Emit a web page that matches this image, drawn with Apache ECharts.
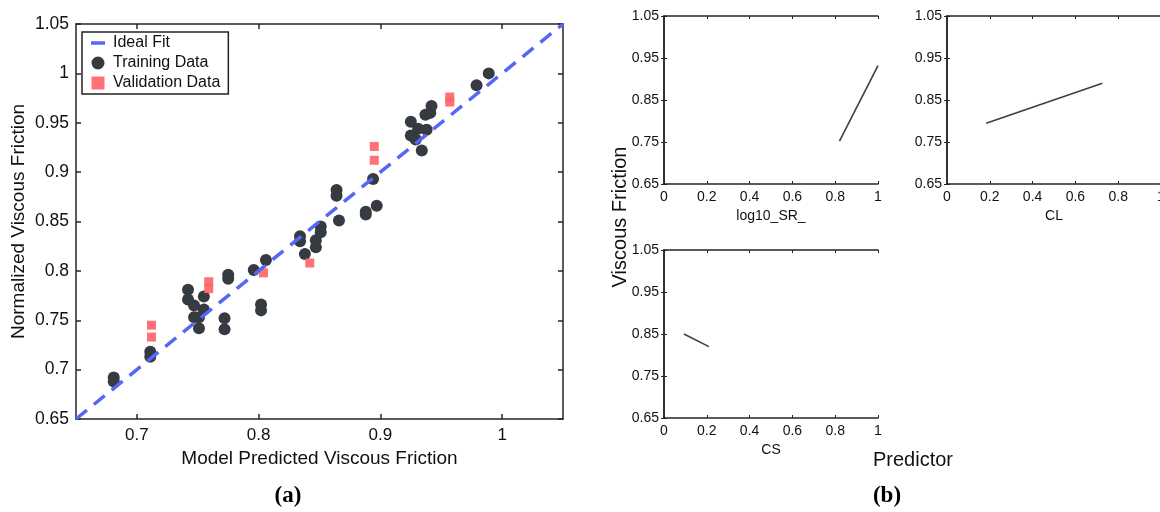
<!DOCTYPE html>
<html>
<head>
<meta charset="utf-8">
<script src="https://cdn.jsdelivr.net/npm/echarts@6/dist/echarts.min.js"></script>
<style>
  html, body { margin: 0; padding: 0; background: #fff; }
  #chart { width: 1160px; height: 512px; }
</style>
</head>
<body>
<div id="chart"></div>
<script>
// (a) model predicted vs normalized viscous friction
const trainX = [0.681, 0.681, 0.711, 0.711, 0.742, 0.742, 0.747, 0.755, 0.755, 0.747, 0.751, 0.751,
  0.772, 0.772, 0.775, 0.775, 0.796, 0.806, 0.802, 0.802, 0.834, 0.834, 0.838, 0.847, 0.847, 0.851, 0.851,
  0.864, 0.864, 0.866, 0.888, 0.888, 0.897, 0.894, 0.925, 0.925, 0.929, 0.931, 0.934, 0.938, 0.937, 0.941, 0.942,
  0.979, 0.989];
const trainY = [0.692, 0.688, 0.718, 0.713, 0.781, 0.771, 0.765, 0.774, 0.761, 0.753, 0.753, 0.742,
  0.752, 0.741, 0.796, 0.792, 0.801, 0.811, 0.766, 0.760, 0.835, 0.830, 0.817, 0.831, 0.824, 0.845, 0.839,
  0.882, 0.876, 0.851, 0.860, 0.857, 0.866, 0.893, 0.951, 0.937, 0.933, 0.944, 0.922, 0.943, 0.958, 0.960, 0.967,
  0.988, 1.000];
const valX = [0.712, 0.712, 0.759, 0.759, 0.804, 0.842, 0.895, 0.895, 0.957, 0.957];
const valY = [0.745, 0.733, 0.789, 0.782, 0.798, 0.808, 0.926, 0.912, 0.976, 0.971];
const idealX = [0.65, 1.05];
const idealY = [0.65, 1.05];
const mainXTicks = [0.7, 0.8, 0.9, 1];

// (b) predictor subplots
const subYTicks = [0.65, 0.75, 0.85, 0.95, 1.05];
const srX = [0.82, 1.0];
const srY = [0.752, 0.932];
const clX = [0.183, 0.726];
const clY = [0.7945, 0.89];
const csX = [0.093, 0.21];
const csY = [0.85, 0.82];
const subNames = ['log10_SR_', 'CL', 'CS'];

const pair = (xs, ys) => xs.map((x, i) => [x, ys[i]]);
const fmt = (v) => String(parseFloat(Number(v).toFixed(2)));
const FONT = '"Liberation Sans", Arial, sans-serif';
const AX = '#262626';

const chart = echarts.init(document.getElementById('chart'));

const grids = [
  { left: 76, top: 24, width: 487, height: 395, outerBoundsMode: 'none' },
  { left: 664, top: 16, width: 214, height: 168, outerBoundsMode: 'none' },
  { left: 947, top: 16, width: 214, height: 168, outerBoundsMode: 'none' },
  { left: 664, top: 250, width: 214, height: 168, outerBoundsMode: 'none' },
];

const xAxes = [];
const yAxes = [];

// main plot axes (bottom/left with labels, top/right mirrored ticks)
xAxes.push({
  gridIndex: 0, type: 'value', min: 0.65, max: 1.05,
  name: 'Model Predicted Viscous Friction', nameLocation: 'middle', nameGap: 30,
  nameTextStyle: { fontFamily: FONT, fontSize: 19, color: '#111' },
  axisLine: { lineStyle: { color: AX, width: 1.5 } },
  axisTick: { inside: true, length: 5, customValues: mainXTicks, lineStyle: { color: AX, width: 1.5 } },
  axisLabel: { customValues: mainXTicks, formatter: fmt, fontFamily: FONT, fontSize: 17, color: '#111', margin: 8 },
  splitLine: { show: false },
});
xAxes.push({
  gridIndex: 0, type: 'value', position: 'top', min: 0.65, max: 1.05,
  axisLine: { lineStyle: { color: AX, width: 1.5 } },
  axisTick: { inside: true, length: 5, customValues: mainXTicks, lineStyle: { color: AX, width: 1.5 } },
  axisLabel: { show: false }, splitLine: { show: false },
});
yAxes.push({
  gridIndex: 0, type: 'value', min: 0.65, max: 1.05, interval: 0.05,
  name: 'Normalized Viscous Friction', nameLocation: 'middle', nameGap: 48,
  nameTextStyle: { fontFamily: FONT, fontSize: 19, color: '#111' },
  axisLine: { lineStyle: { color: AX, width: 1.5 } },
  axisTick: { inside: true, length: 5, lineStyle: { color: AX, width: 1.5 } },
  axisLabel: { formatter: fmt, fontFamily: FONT, fontSize: 17.5, color: '#111', margin: 7 },
  splitLine: { show: false },
});
yAxes.push({
  gridIndex: 0, type: 'value', position: 'right', min: 0.65, max: 1.05, interval: 0.05,
  axisLine: { lineStyle: { color: AX, width: 1.5 } },
  axisTick: { inside: true, length: 5, lineStyle: { color: AX, width: 1.5 } },
  axisLabel: { show: false }, splitLine: { show: false },
});

// subplot axes
for (let g = 1; g <= 3; g++) {
  xAxes.push({
    gridIndex: g, type: 'value', min: 0, max: 1, interval: 0.2,
    name: subNames[g - 1], nameLocation: 'middle', nameGap: 25,
    nameTextStyle: { fontFamily: FONT, fontSize: 14, color: '#111' },
    axisLine: { lineStyle: { color: AX, width: 1.5 } },
    axisTick: { inside: true, length: 3, lineStyle: { color: AX, width: 1 } },
    axisLabel: { formatter: fmt, fontFamily: FONT, fontSize: 14, color: '#111', margin: 6 },
    splitLine: { show: false },
  });
  xAxes.push({
    gridIndex: g, type: 'value', position: 'top', min: 0, max: 1, interval: 0.2,
    axisLine: { lineStyle: { color: AX, width: 1.5 } },
    axisTick: { inside: true, length: 3, lineStyle: { color: AX, width: 1 } },
    axisLabel: { show: false }, splitLine: { show: false },
  });
  yAxes.push({
    gridIndex: g, type: 'value', min: 0.65, max: 1.05,
    axisLine: { lineStyle: { color: AX, width: 1.5 } },
    axisTick: { inside: true, length: 3, customValues: subYTicks, lineStyle: { color: AX, width: 1 } },
    axisLabel: { customValues: subYTicks, formatter: fmt, fontFamily: FONT, fontSize: 14, color: '#111', margin: 5 },
    splitLine: { show: false },
  });
  yAxes.push({
    gridIndex: g, type: 'value', position: 'right', min: 0.65, max: 1.05,
    axisLine: { lineStyle: { color: AX, width: 1.5 } },
    axisTick: { inside: true, length: 3, customValues: subYTicks, lineStyle: { color: AX, width: 1 } },
    axisLabel: { show: false }, splitLine: { show: false },
  });
}

const subLine = (idx, xs, ys) => ({
  type: 'line', xAxisIndex: idx * 2, yAxisIndex: idx * 2, data: pair(xs, ys),
  symbol: 'none', silent: true,
  lineStyle: { color: '#3a3f45', width: 1.6 },
});

const option = {
  animation: false,
  backgroundColor: '#fff',
  grid: grids,
  xAxis: xAxes,
  yAxis: yAxes,
  legend: {
    left: 82, top: 32, orient: 'vertical',
    borderColor: '#222', borderWidth: 1.5, borderRadius: 0,
    padding: [3, 8, 3, 9], itemGap: 4, itemWidth: 14, itemHeight: 13,
    textStyle: { fontFamily: FONT, fontSize: 16, color: '#111', padding: [1, 0, 0, 3] },
    data: [
      { name: 'Ideal Fit', icon: 'path://M0,0H14V3.5H0Z' },
      { name: 'Training Data', icon: 'circle' },
      { name: 'Validation Data', icon: 'path://M0,0H10V10H0Z' },
    ],
  },
  series: [
    {
      name: 'Ideal Fit', type: 'line', xAxisIndex: 0, yAxisIndex: 0,
      data: pair(idealX, idealY), symbol: 'none', color: '#5667f6',
      lineStyle: { color: '#5667f6', width: 3.5, type: [14, 9] },
    },
    {
      name: 'Training Data', type: 'scatter', xAxisIndex: 0, yAxisIndex: 0,
      data: pair(trainX, trainY), symbol: 'circle', symbolSize: 12,
      itemStyle: { color: '#353b41', opacity: 1 },
    },
    {
      name: 'Validation Data', type: 'scatter', xAxisIndex: 0, yAxisIndex: 0,
      data: pair(valX, valY), symbol: 'rect', symbolSize: 9, color: '#ff646b',
      itemStyle: { color: '#ff646b', opacity: 0.92 },
    },
    subLine(1, srX, srY),
    subLine(2, clX, clY),
    subLine(3, csX, csY),
  ],
  graphic: [
    { type: 'text', x: 288, y: 496, style: { text: '(a)', font: 'bold 23px "Liberation Serif", serif', fill: '#000', align: 'center', verticalAlign: 'middle' } },
    { type: 'text', x: 887, y: 496, style: { text: '(b)', font: 'bold 23px "Liberation Serif", serif', fill: '#000', align: 'center', verticalAlign: 'middle' } },
    { type: 'text', x: 913, y: 460, style: { text: 'Predictor', font: '20px "Liberation Sans", Arial, sans-serif', fill: '#111', align: 'center', verticalAlign: 'middle' } },
    { type: 'text', x: 620, y: 217, rotation: Math.PI / 2, style: { text: 'Viscous Friction', font: '20px "Liberation Sans", Arial, sans-serif', fill: '#111', align: 'center', verticalAlign: 'middle' } },
  ],
};

chart.setOption(option);
</script>
</body>
</html>
